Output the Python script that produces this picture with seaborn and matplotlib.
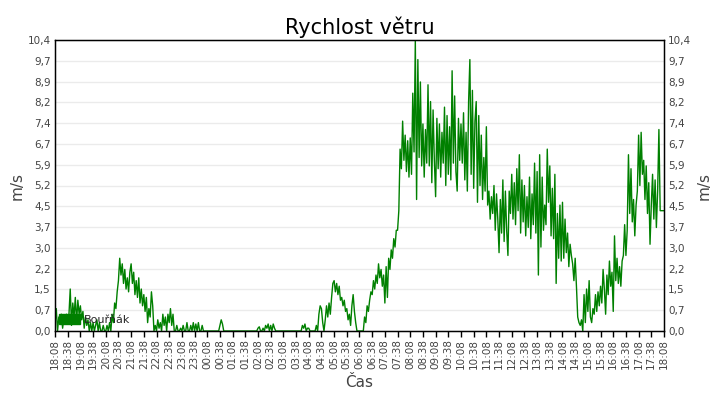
import numpy as np
import pandas as pd
import matplotlib
matplotlib.use("Agg")
import matplotlib.pyplot as plt
import matplotlib.patches as mpatches
import seaborn as sns

# wind speed in m/s, one value every 3 minutes from 18:08 to 18:08 next day
# (each row = one half-hour block)
wind = [
    0.3, 0.8, 0.0, 0.5, 0.3, 0.6, 0.1, 0.5, 0.3, 0.6,   # 18:08
    0.3, 0.6, 1.5, 0.2, 1.0, 0.5, 1.2, 0.3, 1.1, 0.6,   # 18:38
    0.9, 0.4, 0.7, 0.1, 0.5, 0.2, 0.4, 0.0, 0.3, 0.0,   # 19:08
    0.3, 0.0, 0.2, 0.4, 0.0, 0.3, 0.0, 0.0, 0.2, 0.0,   # 19:38
    0.0, 0.2, 0.0, 0.3, 0.0, 0.6, 0.3, 1.0, 0.8, 1.4,   # 20:08
    1.8, 2.6, 2.0, 2.4, 1.7, 2.2, 1.5, 1.9, 1.4, 2.1,   # 20:38
    2.4, 1.7, 2.1, 1.3, 1.8, 1.2, 1.9, 1.0, 1.5, 0.9,   # 21:08
    1.3, 0.7, 1.2, 0.3, 0.8, 0.5, 1.4, 0.9, 0.0, 0.2,   # 21:38
    0.0, 0.4, 0.1, 0.3, 0.0, 0.6, 0.2, 0.5, 0.0, 0.6,   # 22:08
    0.3, 0.8, 0.2, 0.6, 0.0, 0.0, 0.2, 0.0, 0.0, 0.1,   # 22:38
    0.0, 0.2, 0.0, 0.0, 0.3, 0.0, 0.0, 0.2, 0.0, 0.3,   # 23:08
    0.0, 0.25, 0.0, 0.3, 0.0, 0.0, 0.2, 0.0, 0.0, 0.0,  # 23:38
    0.0, 0.0, 0.0, 0.0, 0.0, 0.0, 0.0, 0.0, 0.0, 0.0,   # 00:08
    0.2, 0.4, 0.25, 0.0, 0.0, 0.0, 0.0, 0.0, 0.0, 0.0,  # 00:38
    0.0, 0.0, 0.0, 0.0, 0.0, 0.0, 0.0, 0.0, 0.0, 0.0,   # 01:08
    0.0, 0.0, 0.0, 0.0, 0.0, 0.0, 0.0, 0.0, 0.0, 0.0,   # 01:38
    0.1, 0.15, 0.0, 0.0, 0.1, 0.0, 0.2, 0.1, 0.25, 0.0, # 02:08
    0.2, 0.0, 0.25, 0.1, 0.0, 0.0, 0.0, 0.0, 0.0, 0.0,  # 02:38
    0.0, 0.0, 0.0, 0.0, 0.0, 0.0, 0.0, 0.0, 0.0, 0.0,   # 03:08
    0.0, 0.0, 0.0, 0.0, 0.0, 0.2, 0.1, 0.25, 0.0, 0.1,  # 03:38
    0.1, 0.0, 0.0, 0.0, 0.0, 0.0, 0.2, 0.0, 0.6, 0.9,   # 04:08
    0.8, 0.3, 0.0, 0.4, 0.9, 0.5, 1.0, 0.6, 1.2, 1.7,   # 04:38
    1.8, 1.4, 1.7, 1.3, 1.6, 1.1, 1.2, 0.9, 1.1, 0.7,   # 05:08
    0.8, 0.4, 0.6, 0.2, 0.9, 1.3, 0.7, 0.3, 0.0, 0.0,   # 05:38
    0.0, 0.0, 0.0, 0.0, 0.5, 0.3, 0.9, 0.7, 1.1, 1.4,   # 06:08
    1.3, 1.8, 1.5, 2.0, 1.7, 2.4, 1.9, 2.2, 1.6, 2.0,   # 06:38
    1.0, 2.3, 1.2, 2.6, 2.2, 2.9, 2.6, 3.3, 3.0, 3.6,   # 07:08
    3.6, 4.3, 6.5, 5.8, 7.5, 6.1, 7.0, 5.7, 6.8, 5.5,   # 07:38
    6.9, 5.6, 8.5, 6.4, 10.4, 4.7, 9.7, 6.2, 8.9, 5.9,  # 08:08
    7.4, 5.5, 7.2, 6.0, 8.8, 5.9, 8.2, 5.3, 7.9, 6.1,   # 08:38
    4.8, 7.6, 5.8, 7.4, 5.5, 7.1, 6.0, 8.0, 5.2, 7.7,   # 09:08
    5.6, 7.3, 5.4, 9.3, 6.0, 8.4, 5.7, 5.0, 7.6, 6.1,   # 09:38
    7.4, 6.0, 7.8, 5.4, 7.1, 5.0, 8.2, 9.7, 5.6, 8.6,   # 10:08
    5.1, 7.5, 8.2, 4.6, 7.7, 5.2, 7.0, 4.7, 6.2, 5.0,   # 10:38
    7.3, 4.5, 5.0, 4.0, 4.8, 4.2, 5.2, 3.6, 4.9, 4.0,   # 11:08
    2.8, 4.7, 3.5, 5.4, 3.2, 5.0, 3.6, 2.7, 5.0, 4.2,   # 11:38
    5.6, 4.0, 5.3, 3.8, 5.8, 4.3, 6.3, 3.5, 5.4, 3.9,   # 12:08
    5.2, 3.4, 4.8, 3.7, 5.5, 3.3, 4.9, 3.8, 6.0, 3.5,   # 12:38
    5.7, 2.0, 6.3, 3.0, 5.5, 3.6, 4.5, 3.8, 6.5, 4.6,   # 13:08
    5.9, 3.4, 5.1, 3.3, 5.6, 1.7, 4.2, 2.6, 4.5, 2.5,   # 13:38
    4.6, 2.6, 4.0, 2.8, 3.5, 2.3, 3.1, 2.7, 2.4, 1.8,   # 14:08
    2.6, 1.6, 0.5, 0.3, 0.2, 0.4, 0.0, 1.3, 0.3, 1.5,   # 14:38
    0.7, 1.8, 0.5, 0.3, 0.8, 0.6, 1.3, 0.7, 1.4, 0.9,   # 15:08
    1.6, 1.0, 2.2, 1.5, 0.6, 2.0, 1.3, 2.5, 1.6, 2.1,   # 15:38
    0.7, 3.4, 1.8, 2.6, 1.7, 2.3, 1.6, 2.5, 2.7, 3.8,   # 16:08
    2.7, 3.6, 6.3, 4.2, 5.8, 3.9, 4.7, 3.4, 4.5, 5.0,   # 16:38
    7.0, 5.2, 7.1, 5.6, 6.1, 4.7, 5.9, 4.2, 5.3, 3.1,   # 17:08
    4.5, 5.6, 4.0, 5.4, 3.7, 5.0, 7.2, 4.3, 4.3, 4.3,   # 17:38
    4.3,                                                # 18:08
]
times = pd.date_range("2024-05-01 18:08", periods=len(wind), freq="3min")
df = pd.DataFrame({"cas": times, "rychlost": wind})

y_ticks = np.linspace(0, 10.4, 15)
y_labels = [f"{v:.1f}".replace(".", ",") for v in y_ticks]
x_ticks = pd.date_range(times[0], times[-1], freq="30min")
x_labels = [t.strftime("%H:%M") for t in x_ticks]

green = "#008000"
grey = "#444444"

sns.set_style("white")
plt.rcParams["font.family"] = ["DejaVu Sans"]

fig = plt.figure(figsize=(7.2, 4), dpi=100)
ax = fig.add_axes([0.0764, 0.1725, 0.8458, 0.7275])

sns.lineplot(data=df, x="cas", y="rychlost", ax=ax, color=green, linewidth=1, legend=False)

ax.set_xlim(times[0], times[-1])
ax.set_ylim(0, 10.4)
ax.set_yticks(y_ticks)
ax.set_yticklabels(y_labels, fontsize=7.5, color=grey)
ax.set_xticks(x_ticks)
ax.set_xticklabels(x_labels, rotation=90, fontsize=7.5, color=grey)
ax.tick_params(axis="x", length=4, width=1, color="black", pad=2, direction="out", bottom=True)
ax.tick_params(axis="y", length=0, pad=3)
ax.grid(axis="y", color="#ebebeb", linewidth=1)
ax.set_axisbelow(True)
for s in ax.spines.values():
    s.set_color("black")
    s.set_linewidth(1)

ax2 = ax.twinx()
ax2.set_ylim(0, 10.4)
ax2.set_yticks(y_ticks)
ax2.set_yticklabels(y_labels, fontsize=7.5, color=grey)
ax2.tick_params(axis="y", length=0, pad=3)
ax2.set_ylabel("m/s", fontsize=11, color=grey, labelpad=4)
for s in ax2.spines.values():
    s.set_color("black")

ax.set_title("Rychlost větru", fontsize=15, color="black", pad=4)
ax.set_xlabel("Čas", fontsize=11, color=grey, labelpad=4)
ax.set_ylabel("m/s", fontsize=11, color=grey, labelpad=2)

handle = mpatches.Patch(color=green, label="Bouřňák")
ax.legend(handles=[handle], loc="lower left", frameon=False, fontsize=8,
          handlelength=1.9, handleheight=1.1, handletextpad=0.35,
          borderpad=0.1, borderaxespad=0.15, bbox_to_anchor=(0.002, 0.012))

fig.savefig("out.png", dpi=100)
